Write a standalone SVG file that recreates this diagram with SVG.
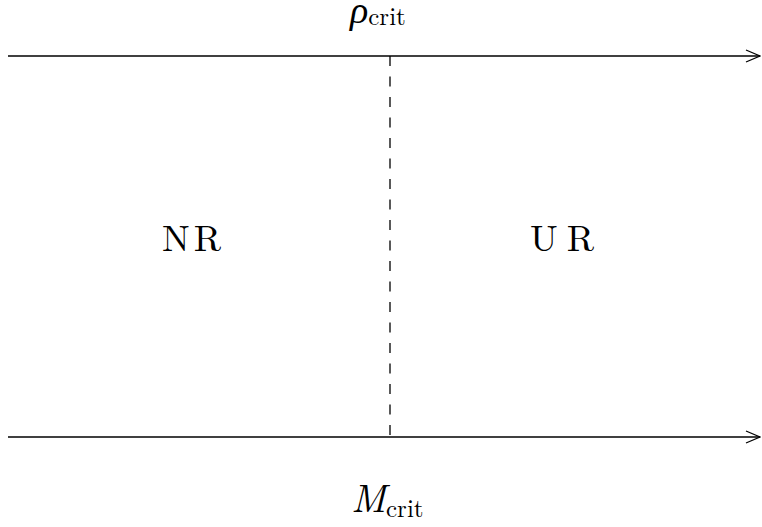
<svg xmlns="http://www.w3.org/2000/svg" width="762" height="527" viewBox="0 0 762 527">
<style>
.ax{stroke:#000;stroke-width:1.4;fill:none}
.dash{stroke:#000;stroke-width:1.3;stroke-dasharray:10 10.5;fill:none}
.t{font-family:"Latin Modern Roman","Liberation Serif",serif;fill:#000}
.it{font-style:italic}
.gr{font-family:"Liberation Serif","DejaVu Serif",serif;font-style:italic}
.lbl{font-size:37px;letter-spacing:4px}
</style>
<defs>
<marker id="arr" markerWidth="16" markerHeight="14" refX="15" refY="7" orient="auto" markerUnits="userSpaceOnUse">
<path d="M1,1 L15,7 L1,13" fill="none" stroke="#000" stroke-width="1.3"/>
</marker>
</defs>
<g id="connectors">
<line class="ax" x1="8" y1="56" x2="760" y2="56" marker-end="url(#arr)"/>
<line class="ax" x1="8" y1="437" x2="760" y2="437" marker-end="url(#arr)"/>
<line class="dash" x1="390" y1="56" x2="390" y2="437"/>
</g>
<g id="rho">
<text class="t" x="350" y="23"><tspan class="gr" font-size="38">ρ</tspan><tspan font-size="25" dy="2">crit</tspan></text>
</g>
<g id="NR">
<text class="t lbl" x="162" y="251">NR</text>
</g>
<g id="UR">
<text class="t lbl" x="530" y="251" style="letter-spacing:9px">UR</text>
</g>
<g id="M">
<text class="t" x="351" y="512"><tspan class="it" font-size="39">M</tspan><tspan font-size="25" dy="5">crit</tspan></text>
</g>
</svg>
